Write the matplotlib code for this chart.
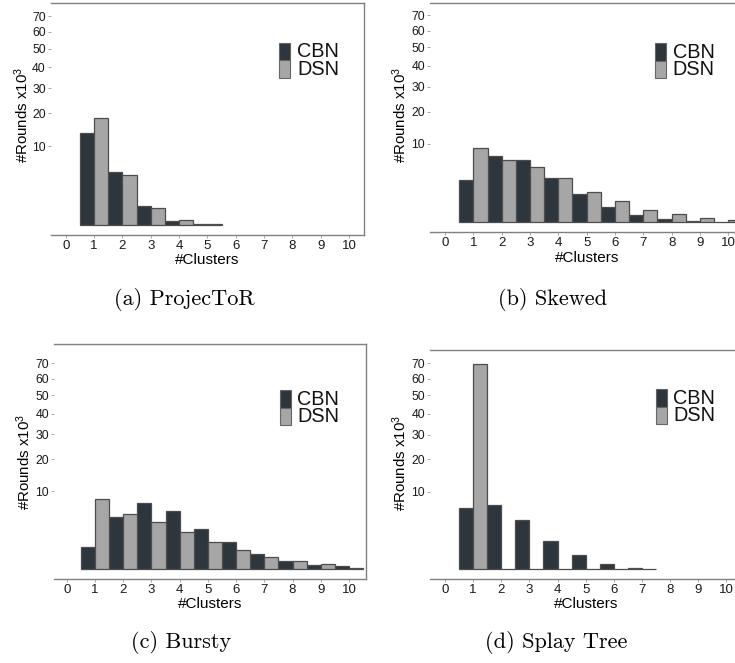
import numpy as np
import matplotlib
matplotlib.use("Agg")
import matplotlib.pyplot as plt
from matplotlib.patches import Rectangle

plt.rcParams['font.family'] = ['Liberation Sans', 'DejaVu Sans']
plt.rcParams['mathtext.fontset'] = 'custom'
plt.rcParams['mathtext.rm'] = 'Liberation Sans'
plt.rcParams['mathtext.it'] = 'Liberation Sans:italic'

# ---------------- data (x10^3 rounds) ----------------
clusters = list(range(1, 11))
x_ticks = list(range(0, 11))
y_ticks = [10, 20, 30, 40, 50, 60, 70]
series = ["CBN", "DSN"]
captions = ["(a) ProjecToR", "(b) Skewed", "(c) Bursty", "(d) Splay Tree"]

projector_cbn = [13.5, 4.55, 0.60, 0.03, 0.003, np.nan, np.nan, np.nan, np.nan, np.nan]
projector_dsn = [18.3, 4.11, 0.46, 0.046, 0.004, np.nan, np.nan, np.nan, np.nan, np.nan]

skewed_cbn = [2.95, 7.23, 6.25, 3.18, 1.26, 0.37, 0.088, 0.012, 0.003, 0.0003]
skewed_dsn = [9.08, 6.25, 4.91, 3.13, 1.45, 0.70, 0.25, 0.097, 0.022, 0.0066]

bursty_cbn = [0.80, 4.50, 7.30, 5.53, 2.72, 1.20, 0.40, 0.114, 0.036, 0.015]
bursty_dsn = [8.05, 5.09, 3.73, 2.25, 1.20, 0.59, 0.26, 0.114, 0.041, 0.0046]

splay_cbn = [6.18, 6.80, 3.95, 1.32, 0.32, 0.053, 0.0046, np.nan, np.nan, np.nan]
splay_dsn = [69.7, 0.0, 0.0, 0.0, 0.0, 0.0, 0.0, np.nan, np.nan, np.nan]

panel_data = [(projector_cbn, projector_dsn), (skewed_cbn, skewed_dsn),
              (bursty_cbn, bursty_dsn), (splay_cbn, splay_dsn)]

# ---------------- style ----------------
C_CBN = '#2d363c'
C_DSN = '#a6a6a6'
EDGE = '#4d4d4d'
SPINE = '#808080'

W, H = 735, 663
fig = plt.figure(figsize=(W / 100, H / 100), dpi=100)

def fx(v):
    return v / W

def fy(v):
    return 1 - v / H

geoms = [
    dict(left=50.7, top=3.3, bottom=235.0, px_unit=28.33, xlim=(-0.53, 10.53), ylim=(-0.39, 8.88),
         ylab=(-0.092, 0.518), leg=(279, 43, 60.5, 78), cap=(184.5, 300)),
    dict(left=430.0, top=3.3, bottom=232.3, px_unit=28.33, xlim=(-0.53, 10.53), ylim=(-0.42, 8.86),
         ylab=(-0.098, 0.512), leg=(654.5, 43, 61, 78.3), cap=(553, 300)),
    dict(left=54.0, top=344.3, bottom=578.7, px_unit=28.23, xlim=(-0.45, 10.6), ylim=(-0.38, 9.14),
         ylab=(-0.098, 0.496), leg=(279.5, 390, 408.3, 425), cap=(181, 642)),
    dict(left=430.0, top=350.3, bottom=578.7, px_unit=28.15, xlim=(-0.53, 10.53), ylim=(-0.38, 8.90),
         ylab=(-0.098, 0.507), leg=(655.5, 389.3, 406.7, 424.3), cap=(556, 642)),
]

def fwd(v):
    v = np.asarray(v, dtype=float)
    return np.sign(v) * np.sqrt(np.abs(v))

def inv(v):
    v = np.asarray(v, dtype=float)
    return np.sign(v) * v ** 2

x = np.array(clusters, dtype=float)
bw = 0.5

for g, (cbn, dsn), caption in zip(geoms, panel_data, captions):
    width_px = (g['xlim'][1] - g['xlim'][0]) * g['px_unit']
    ax = fig.add_axes([fx(g['left']), fy(g['bottom']), width_px / W, (g['bottom'] - g['top']) / H])
    ax.set_yscale('function', functions=(fwd, inv))
    ax.bar(x - bw / 2, cbn, width=bw, color=C_CBN, edgecolor=EDGE, linewidth=0.9, zorder=3)
    ax.bar(x + bw / 2, dsn, width=bw, color=C_DSN, edgecolor=EDGE, linewidth=0.9, zorder=3)
    ax.set_xlim(*g['xlim'])
    ax.set_ylim(-(g['ylim'][0] ** 2), g['ylim'][1] ** 2)
    ax.set_xticks(x_ticks)
    ax.set_xticklabels([str(t) for t in x_ticks], fontsize=9.5, color='#1a1a1a')
    ax.set_yticks(y_ticks)
    ax.set_yticklabels([str(t) for t in y_ticks], fontsize=8.8, color='#1a1a1a')
    ax.minorticks_off()
    ax.tick_params(axis='both', length=2, width=0.6, color='#999999', pad=1.5)
    ax.set_xlabel('#Clusters', fontsize=11, labelpad=1)
    ax.set_ylabel('#Rounds x10$^3$', fontsize=10.8, va='center')
    ax.yaxis.set_label_coords(*g['ylab'])
    ax.spines['left'].set_visible(False)
    for s in ('top', 'right', 'bottom'):
        ax.spines[s].set_color(SPINE)
        ax.spines[s].set_linewidth(1.0)
    ax.set_facecolor('white')

    lx, y0, y1, y2 = g['leg']
    for (ya, yb), col, lab in zip([(y0, y1), (y1, y2)], [C_CBN, C_DSN], series):
        fig.patches.append(Rectangle((fx(lx), fy(yb)), 11 / W, (yb - ya) / H,
                                     transform=fig.transFigure, facecolor=col,
                                     edgecolor='#666666', linewidth=0.8, figure=fig))
        fig.text(fx(lx + 18), fy((ya + yb) / 2), lab, fontsize=14.3, ha='left', va='center',
                 color='#111111')

    cx, cy = g['cap']
    fig.text(fx(cx), fy(cy), caption, family='cmr10', fontsize=16, ha='center', va='center')

fig.savefig('out.png', dpi=100)
